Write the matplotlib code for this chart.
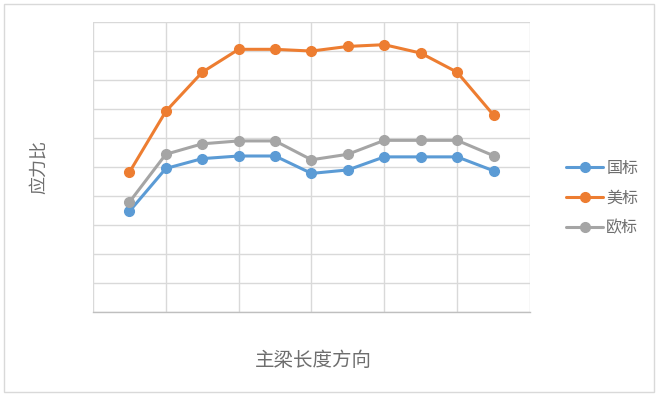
import matplotlib
matplotlib.use("Agg")
import matplotlib.pyplot as plt
from matplotlib.patches import Rectangle

plt.rcParams['font.family'] = ['Noto Sans CJK SC', 'DejaVu Sans']

positions = list(range(11))
guobiao = [0.346, 0.494, 0.528, 0.537, 0.537, 0.477, 0.489, 0.534, 0.534, 0.534, 0.486]
meibiao = [0.481, 0.691, 0.826, 0.905, 0.905, 0.899, 0.915, 0.921, 0.892, 0.826, 0.678]
oubiao = [0.378, 0.543, 0.579, 0.589, 0.589, 0.524, 0.543, 0.591, 0.591, 0.591, 0.538]
series_names = ['国标', '美标', '欧标']
colors = ['#5B9BD5', '#ED7D31', '#A5A5A5']
text_color = '#6E6E6E'

fig = plt.figure(figsize=(6.6, 3.96), dpi=100)
ax = fig.add_axes([0.1409, 0.2129, 0.803 - 0.1409, 0.945 - 0.2129])

for vals, name, c in zip([guobiao, meibiao, oubiao], series_names, colors):
    ax.plot(positions, vals, color=c, lw=2.2, marker='o', markersize=7,
            label=name, solid_capstyle='round', zorder=3)

ax.set_xlim(-1, 11)
ax.set_ylim(0, 1.0)
ax.set_xticks([-1, 1, 3, 5, 7, 9, 11])
ax.set_yticks([i / 10 for i in range(11)])
ax.grid(True, color='#D9D9D9', lw=1.0, zorder=0)
ax.tick_params(length=0, labelleft=False, labelbottom=False)
for s in ['top', 'right', 'left']:
    ax.spines[s].set_visible(False)
ax.spines['bottom'].set_color('#BFBFBF')
ax.spines['bottom'].set_linewidth(1.0)

fig.text(39 / 660, 1 - 167 / 396, '应力比', rotation=90, ha='center', va='center',
         fontsize=13, color=text_color)
fig.text(313 / 660, 1 - 361 / 396, '主梁长度方向', ha='center', va='center',
         fontsize=14, color=text_color)

leg = fig.legend(loc='center left', bbox_to_anchor=(552 / 660, 1 - 198 / 396),
                 frameon=False, fontsize=11.5, labelcolor=text_color,
                 handlelength=2.3, labelspacing=0.8, handletextpad=0.2)

fig.patches.append(Rectangle((4 / 660, 4 / 396), 650 / 660, 388 / 396,
                             transform=fig.transFigure, fill=False,
                             edgecolor='#D9D9D9', lw=1.0))

fig.savefig('out.png', dpi=100)
